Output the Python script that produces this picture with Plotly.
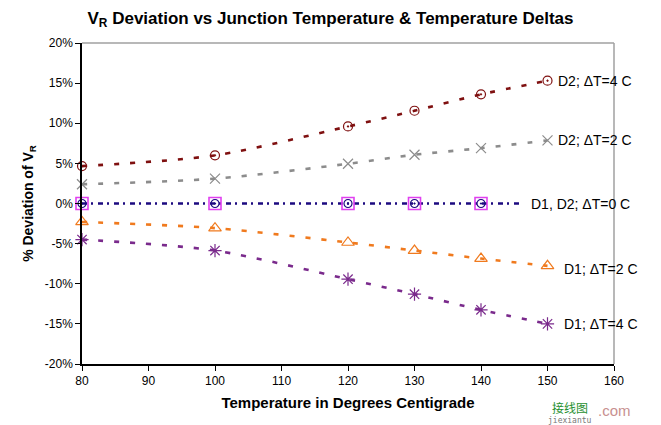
import plotly.graph_objects as go

temps = [80, 100, 120, 130, 140, 150]
d2_dt4 = [4.66, 6.0, 9.6, 11.56, 13.6, 15.3]
d2_dt2 = [2.4, 3.1, 4.95, 6.07, 6.9, 7.86]
d1_dt2 = [-2.3, -3.07, -4.86, -5.86, -6.86, -7.77]
d1_dt4 = [-4.5, -5.86, -9.43, -11.3, -13.25, -15.0]
dt0_temps = [80, 100, 120, 130, 140]
dt0_vals = [0, 0, 0, 0, 0]
dt0_line_x = [80, 146]
dt0_line_y = [0, 0]

x_ticks = [80, 90, 100, 110, 120, 130, 140, 150, 160]
y_ticks = [-20, -15, -10, -5, 0, 5, 10, 15, 20]
y_ticklabels = [f"{v}%" for v in y_ticks]

FONT = "Liberation Sans, Arial, sans-serif"
dash = "5px,11px"

fig = go.Figure()

def series(x, y, color, symbol, size, name, mwidth=1.2):
    fig.add_trace(go.Scatter(
        x=x, y=y, mode="lines+markers", name=name, cliponaxis=False,
        line=dict(color=color, width=2.6, dash=dash, shape="spline", smoothing=0.8),
        marker=dict(symbol=symbol, size=size, color=color,
                    line=dict(color=color, width=mwidth)),
    ))

series(temps, d2_dt4, "#7f1010", "circle-open-dot", 9, "D2; ΔT=4 C")
series(temps, d2_dt2, "#8c8c8c", "x-thin-open", 10, "D2; ΔT=2 C")
series(temps, d1_dt2, "#f07a1e", "triangle-up-open", 11, "D1; ΔT=2 C")
series(temps, d1_dt4, "#7a2a8c", "asterisk-open", 11, "D1; ΔT=4 C")

# Delta T = 0
fig.add_trace(go.Scatter(
    x=dt0_line_x, y=dt0_line_y, mode="lines", cliponaxis=False,
    line=dict(color="#1c0a80", width=2.6, dash="5px,4px,2px,5px"),
))
fig.add_trace(go.Scatter(
    x=dt0_temps, y=dt0_vals, mode="markers", cliponaxis=False,
    marker=dict(symbol="square-open", size=12, color="#e040f0", line=dict(width=1.6, color="#e040f0")),
))
fig.add_trace(go.Scatter(
    x=dt0_temps, y=dt0_vals, mode="markers", cliponaxis=False,
    marker=dict(symbol="circle-open-dot", size=8, color="#1c0a80", line=dict(width=1.2, color="#1c0a80")),
))

labels = [
    (temps[-1], d2_dt4[-1], "D2; ΔT=4 C", 8, 0),
    (temps[-1], d2_dt2[-1], "D2; ΔT=2 C", 8, 0),
    (dt0_line_x[-1], dt0_line_y[-1], "D1, D2; ΔT=0 C", 8, 0),
    (temps[-1], d1_dt2[-1], "D1; ΔT=2 C", 14, -3),
    (temps[-1], d1_dt4[-1], "D1; ΔT=4 C", 14, 0),
]
for x, y, t, xs, ys in labels:
    fig.add_annotation(x=x, y=y, text=t, showarrow=False, xanchor="left", yanchor="middle",
                       xshift=xs, yshift=ys, font=dict(family=FONT, size=14, color="black"))

# grey frame top/right
fig.add_shape(type="line", xref="paper", yref="paper", x0=0, x1=1, y0=1, y1=1,
              line=dict(color="#a0a0a0", width=1.5))
fig.add_shape(type="line", xref="paper", yref="paper", x0=1, x1=1, y0=0, y1=1,
              line=dict(color="#a0a0a0", width=1.5))

# watermark
fig.add_annotation(xref="paper", yref="paper", x=0.917, y=-0.134, text="接线图", showarrow=False,
                   xanchor="center", yanchor="middle",
                   font=dict(family="Noto Sans CJK SC", size=12, color="#1f8f2f"))
fig.add_annotation(xref="paper", yref="paper", x=0.917, y=-0.176, text="jiexiantu", showarrow=False,
                   xanchor="center", yanchor="middle",
                   font=dict(family="DejaVu Sans Mono", size=8, color="#777777"))
fig.add_annotation(xref="paper", yref="paper", x=0.966, y=-0.145, text=".com", showarrow=False,
                   xanchor="left", yanchor="middle",
                   font=dict(family=FONT, size=15, color="#c89090"))

fig.update_layout(
    width=661, height=425,
    margin=dict(l=82, r=47, t=43, b=61),
    paper_bgcolor="white", plot_bgcolor="white",
    showlegend=False,
    font=dict(family=FONT, size=12, color="black"),
    title=dict(text="<b>V<sub>R</sub> Deviation vs Junction Temperature &amp; Temperature Deltas</b>",
               x=0.5, xanchor="center", y=0.958, yanchor="middle", yref="container",
               font=dict(family=FONT, size=17, color="black")),
    xaxis=dict(range=[80, 160], tickvals=x_ticks, showgrid=False, zeroline=False,
               showline=True, linecolor="black", linewidth=1.5, ticks="outside", ticklen=5,
               tickcolor="black", tickfont=dict(size=12),
               title=dict(text="<b>Temperature in Degrees Centigrade</b>", standoff=10,
                          font=dict(family=FONT, size=15))),
    yaxis=dict(range=[-20, 20], tickvals=y_ticks, ticktext=y_ticklabels, showgrid=False,
               zeroline=False, showline=True, linecolor="black", linewidth=1.5, ticks="outside",
               ticklen=5, tickcolor="black", tickfont=dict(size=12),
               title=dict(text="<b>% Deviation of V<sub>R</sub></b>", standoff=8,
                          font=dict(family=FONT, size=14))),
)

fig.write_html("out.html")
